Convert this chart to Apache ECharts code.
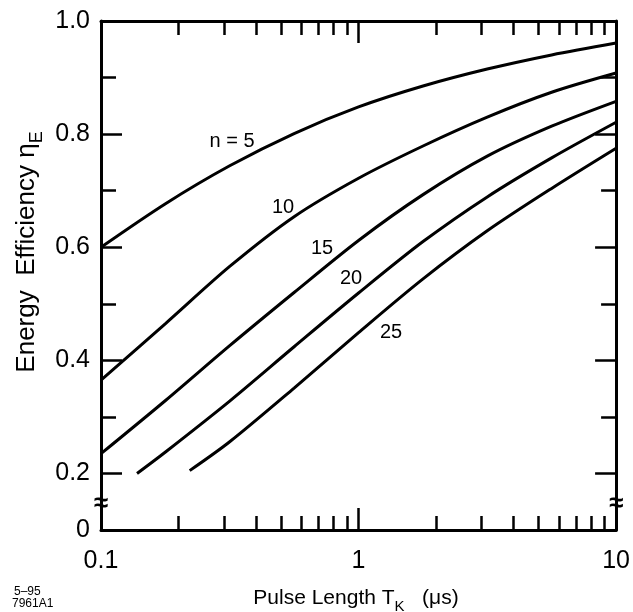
<!DOCTYPE html>
<html><head><meta charset="utf-8">
<script src="https://cdn.jsdelivr.net/npm/echarts@6/dist/echarts.min.js"></script>
<style>html,body{margin:0;padding:0;background:#fff}#c{width:633px;height:612px}</style>
</head><body><div id="c"></div>
<script>
// ---- data ----
const xGrid = [0.1, 0.178, 0.316, 0.562, 1, 1.78, 3.16, 5.62, 10];
const n5X  = xGrid;
const n5Y  = [0.600, 0.677, 0.744, 0.801, 0.848, 0.885, 0.915, 0.940, 0.961];
const n10X = xGrid;
const n10Y = [0.365, 0.465, 0.566, 0.654, 0.722, 0.779, 0.830, 0.874, 0.908];
const n15X = xGrid;
const n15Y = [0.235, 0.329, 0.426, 0.520, 0.612, 0.693, 0.761, 0.814, 0.858];
const n20X = [0.138, 0.178, 0.316, 0.562, 1, 1.78, 3.16, 5.62, 10];
const n20Y = [0.200, 0.238, 0.328, 0.424, 0.519, 0.610, 0.689, 0.758, 0.821];
const n25X = [0.221, 0.316, 0.562, 1, 1.78, 3.16, 5.62, 10];
const n25Y = [0.205, 0.256, 0.351, 0.449, 0.544, 0.629, 0.704, 0.775];
const seriesNames = ['n = 5', '10', '15', '20', '25'];

const xTickLabels = ['0.1', '1', '10'];
const xMinorTicks = [0.2,0.3,0.4,0.5,0.6,0.7,0.8,0.9,2,3,4,5,6,7,8,9];
const yLabelValues = [0.1, 0.2, 0.4, 0.6, 0.8, 1.0];   // 0.1 is the broken-axis "0"
const yTickLabels  = ['0', '0.2', '0.4', '0.6', '0.8', '1.0'];
const yMajorTicks = [0.2, 0.4, 0.6, 0.8, 1.0];
const yMinorTicks = [0.3, 0.5, 0.7, 0.9];
const yBreakValue = 0.147;

const FONT = '"Liberation Sans", Arial, Helvetica, sans-serif';
const chart = echarts.init(document.getElementById('c'), null, {renderer: 'canvas'});

const lineStyleAxis = {show: true, onZero: false, lineStyle: {color: '#000', width: 3}};
const noLine = {show: false, onZero: false};

function xs(a, b) { return a.map((v, i) => [v, b[i]]); }
const allX = [n5X, n10X, n15X, n20X, n25X];
const allY = [n5Y, n10Y, n15Y, n20Y, n25Y];

const option = {
  animation: false,
  backgroundColor: '#fff',
  grid: {left: 101, right: 15, top: 21, bottom: 82, containLabel: false},
  xAxis: [
    {type: 'log', logBase: 10, min: 0.1, max: 10, position: 'bottom',
     axisLine: lineStyleAxis,
     axisTick: {show: true, inside: true, length: 22, lineStyle: {color: '#000', width: 2.5}},
     axisLabel: {show: true, fontSize: 25, color: '#000', fontFamily: FONT, margin: 19,
       formatter: v => { const i = Math.round(Math.log10(v)) + 1; return xTickLabels[i] ?? ''; }},
     splitLine: {show: false}, minorTick: {show: false}},
    {type: 'log', logBase: 10, min: 0.1, max: 10, position: 'top',
     axisLine: lineStyleAxis,
     axisTick: {show: true, inside: true, length: 22, lineStyle: {color: '#000', width: 2.5}},
     axisLabel: {show: false}, splitLine: {show: false}},
    {type: 'value', min: -1, max: 1, position: 'bottom', axisLine: noLine,
     axisTick: {show: true, inside: true, length: 14, lineStyle: {color: '#000', width: 2.5},
                customValues: xMinorTicks.map(v => Math.log10(v))},
     axisLabel: {show: false}, splitLine: {show: false}},
    {type: 'value', min: -1, max: 1, position: 'top', axisLine: noLine,
     axisTick: {show: true, inside: true, length: 14, lineStyle: {color: '#000', width: 2.5},
                customValues: xMinorTicks.map(v => Math.log10(v))},
     axisLabel: {show: false}, splitLine: {show: false}}
  ],
  yAxis: [
    {type: 'value', min: 0.1, max: 1.0, position: 'left', axisLine: lineStyleAxis,
     axisTick: {show: true, inside: true, length: 21, lineStyle: {color: '#000', width: 2.5}, customValues: yMajorTicks},
     axisLabel: {show: true, fontSize: 25, color: '#000', fontFamily: FONT, margin: 11, customValues: yLabelValues,
       formatter: v => { let best = 0; yLabelValues.forEach((t, i) => { if (Math.abs(t - v) < Math.abs(yLabelValues[best] - v)) best = i; }); return yTickLabels[best]; }},
     splitLine: {show: false}},
    {type: 'value', min: 0.1, max: 1.0, position: 'left', axisLine: noLine,
     axisTick: {show: true, inside: true, length: 15, lineStyle: {color: '#000', width: 2.5}, customValues: yMinorTicks},
     axisLabel: {show: false}, splitLine: {show: false}},
    {type: 'value', min: 0.1, max: 1.0, position: 'right', axisLine: lineStyleAxis,
     axisTick: {show: true, inside: true, length: 21, lineStyle: {color: '#000', width: 2.5}, customValues: yMajorTicks},
     axisLabel: {show: false}, splitLine: {show: false}},
    {type: 'value', min: 0.1, max: 1.0, position: 'right', axisLine: noLine,
     axisTick: {show: true, inside: true, length: 15, lineStyle: {color: '#000', width: 2.5}, customValues: yMinorTicks},
     axisLabel: {show: false}, splitLine: {show: false}}
  ],
  series: seriesNames.map((name, i) => ({
    name, type: 'line', xAxisIndex: 0, yAxisIndex: 0,
    data: xs(allX[i], allY[i]), smooth: 0.3, symbol: 'none',
    lineStyle: {color: '#000', width: 3}
  }))
};
chart.setOption(option);

// annotations
const labelPos = [[232, 141], [283, 207], [322, 248], [351, 278], [391, 332]];
const gfx = [];
seriesNames.forEach((t, i) => gfx.push({type: 'text', x: labelPos[i][0], y: labelPos[i][1],
  style: {text: t, fontSize: 20, fill: '#000', fontFamily: FONT, align: 'center', verticalAlign: 'middle'}}));
const pL = chart.convertToPixel({xAxisIndex: 0, yAxisIndex: 0}, [0.1, yBreakValue]);
const pR = chart.convertToPixel({xAxisIndex: 0, yAxisIndex: 0}, [10, yBreakValue]);
[pL, pR].forEach(p => gfx.push({type: 'text', x: p[0], y: p[1],
  style: {text: '≈', fontSize: 26, fontWeight: 'bold', fill: '#000', fontFamily: FONT, align: 'center', verticalAlign: 'middle'}}));
gfx.push({type: 'text', x: 27, y: 252, rotation: Math.PI / 2,
  style: {text: '{a|Energy  Efficiency η}{b|E}', fill: '#000', align: 'center', verticalAlign: 'middle',
    rich: {a: {fontSize: 26, fontFamily: FONT, lineHeight: 29, fill: '#000'},
           b: {fontSize: 18, fontFamily: FONT, lineHeight: 38, verticalAlign: 'bottom', fill: '#000'}}}});
gfx.push({type: 'text', x: 356, y: 598,
  style: {text: '{a|Pulse Length T}{b|K}{a|   (μs)}', fill: '#000', align: 'center', verticalAlign: 'middle',
    rich: {a: {fontSize: 21, fontFamily: FONT, lineHeight: 24, fill: '#000'},
           b: {fontSize: 15, fontFamily: FONT, lineHeight: 32, verticalAlign: 'bottom', fill: '#000'}}}});
gfx.push({type: 'text', x: 14, y: 592, style: {text: '5–95', fontSize: 12, fontFamily: FONT, fill: '#000', verticalAlign: 'middle'}});
gfx.push({type: 'text', x: 12, y: 604, style: {text: '7961A1', fontSize: 12, fontFamily: FONT, fill: '#000', verticalAlign: 'middle'}});
chart.setOption({graphic: gfx});
</script></body></html>
